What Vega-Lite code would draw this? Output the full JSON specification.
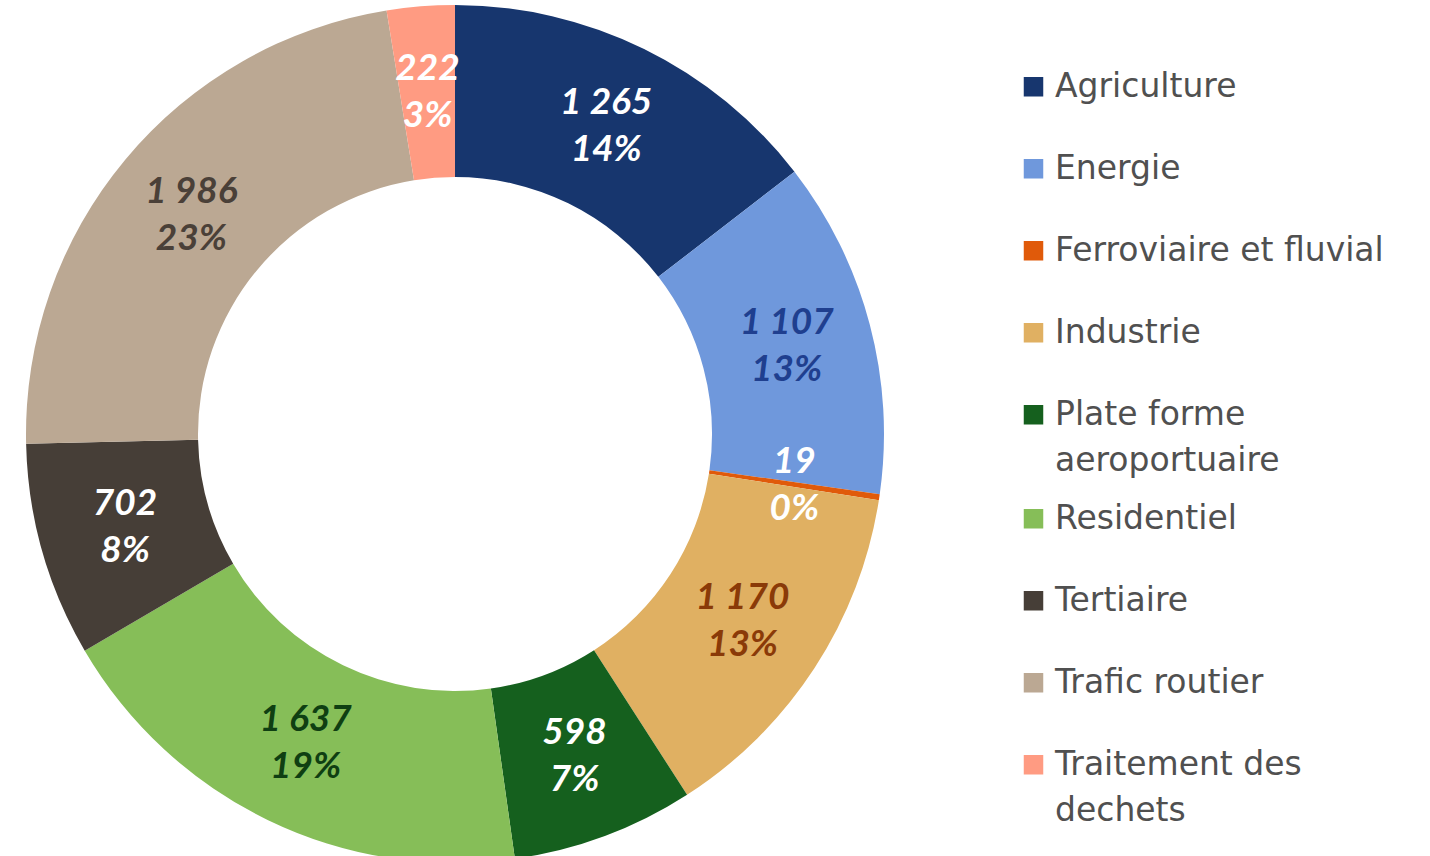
{
  "$schema": "https://vega.github.io/schema/vega-lite/v6.json",
  "width": 910,
  "height": 868,
  "padding": 0,
  "background": "white",
  "config": {
    "view": {"stroke": null},
    "style": {"guide-label": {"lineHeight": 46}},
    "locale": {"number": {"decimal": ",", "thousands": " ", "grouping": [3], "currency": ["", " €"]}}
  },
  "data": {
    "values": [
      {"category": "Agriculture", "value": 1265, "pct": "14%"},
      {"category": "Energie", "value": 1107, "pct": "13%"},
      {"category": "Ferroviaire et fluvial", "value": 19, "pct": "0%"},
      {"category": "Industrie", "value": 1170, "pct": "13%"},
      {"category": "Plate forme aeroportuaire", "value": 598, "pct": "7%"},
      {"category": "Residentiel", "value": 1637, "pct": "19%"},
      {"category": "Tertiaire", "value": 702, "pct": "8%"},
      {"category": "Trafic routier", "value": 1986, "pct": "23%"},
      {"category": "Traitement des dechets", "value": 222, "pct": "3%"}
    ]
  },
  "encoding": {
    "theta": {"field": "value", "type": "quantitative", "stack": true},
    "order": {"field": "category", "type": "nominal", "sort": "ascending"}
  },
  "layer": [
    {
      "mark": {"type": "arc", "innerRadius": 257, "outerRadius": 429, "stroke": null},
      "encoding": {
        "color": {
          "field": "category",
          "type": "nominal",
          "scale": {
            "domain": ["Agriculture", "Energie", "Ferroviaire et fluvial", "Industrie", "Plate forme aeroportuaire", "Residentiel", "Tertiaire", "Trafic routier", "Traitement des dechets"],
            "range": ["#17366E", "#6F98DC", "#E05A0A", "#E0B062", "#15601E", "#86BE58", "#463E37", "#BBA893", "#FF9B82"]
          },
          "legend": {
            "title": null,
            "orient": "none",
            "legendX": 1017,
            "legendY": 46,
            "symbolType": "square",
            "symbolSize": 380,
            "symbolStrokeWidth": 0,
            "labelFont": "DejaVu Sans",
            "labelFontSize": 33,
            "labelColor": "#505050",
            "labelOffset": 5,
            "labelLimit": 500,
            "clipHeight": 81.5,
            "rowPadding": 0,
            "labelExpr": "datum.label == 'Plate forme aeroportuaire' ? ['Plate forme', 'aeroportuaire'] : datum.label == 'Traitement des dechets' ? ['Traitement des', 'dechets'] : datum.label",
            "encode": {
              "labels": {
                "update": {
                  "lineHeight": {"value": 46},
                  "dy": {"signal": "datum.value == 'Traitement des dechets' ? 23 : 0"}
                }
              }
            }
          }
        }
      }
    },
    {
      "mark": {"type": "text", "radius": 343, "dy": -23, "font": "Lato", "fontSize": 37, "fontWeight": "bold", "fontStyle": "italic"},
      "encoding": {
        "text": {"field": "value", "type": "quantitative", "format": ",d"},
        "color": {
          "condition": [
            {"test": "datum.category == 'Energie'", "value": "#1F3F8F"},
            {"test": "datum.category == 'Industrie'", "value": "#8A3A08"},
            {"test": "datum.category == 'Residentiel'", "value": "#0F3F12"},
            {"test": "datum.category == 'Trafic routier'", "value": "#4A4038"}
          ],
          "value": "white"
        }
      }
    },
    {
      "mark": {"type": "text", "radius": 343, "dy": 24, "font": "Lato", "fontSize": 37, "fontWeight": "bold", "fontStyle": "italic"},
      "encoding": {
        "text": {"field": "pct", "type": "nominal"},
        "color": {
          "condition": [
            {"test": "datum.category == 'Energie'", "value": "#1F3F8F"},
            {"test": "datum.category == 'Industrie'", "value": "#8A3A08"},
            {"test": "datum.category == 'Residentiel'", "value": "#0F3F12"},
            {"test": "datum.category == 'Trafic routier'", "value": "#4A4038"}
          ],
          "value": "white"
        }
      }
    }
  ]
}
